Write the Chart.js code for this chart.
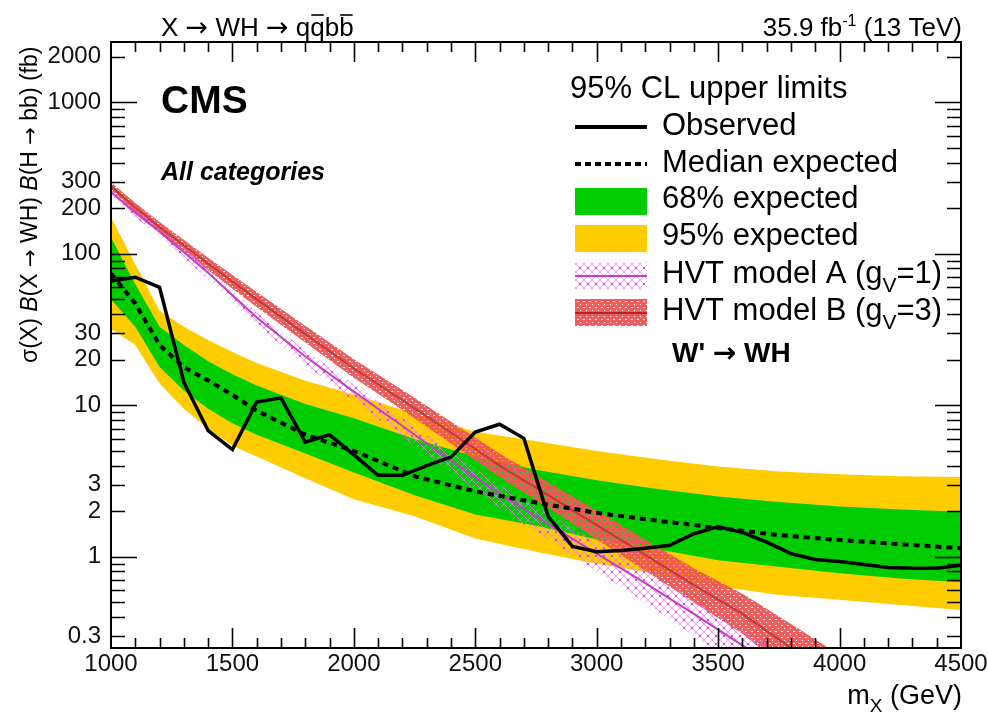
<!DOCTYPE html>
<html>
<head>
<meta charset="utf-8">
<title>W' to WH limits</title>
<script src="https://cdn.jsdelivr.net/npm/chart.js@4.4.1/dist/chart.umd.min.js"></script>
<style>
  html, body { margin: 0; padding: 0; background: #fff; }
  #wrap { width: 988px; height: 717px; }
</style>
</head>
<body>
<div id="wrap"><canvas id="limitChart" width="988" height="717"></canvas></div>
<script>
// observed limit, one point per 100 GeV
const obsMass = [1000, 1100, 1200, 1300, 1400, 1500, 1600, 1700, 1800, 1900, 2000, 2100,
  2200, 2300, 2400, 2500, 2600, 2700, 2800, 2900, 3000, 3100, 3200, 3300, 3400, 3500,
  3600, 3700, 3800, 3900, 4000, 4100, 4200, 4300, 4400, 4500]
const observed = [66, 70, 60, 14.2, 6.8, 5.1, 10.5, 11.2, 5.7, 6.4, 4.7, 3.45,
  3.45, 4.0, 4.55, 6.65, 7.5, 6.05, 1.85, 1.17, 1.08, 1.1, 1.14, 1.19, 1.42, 1.58,
  1.45, 1.25, 1.05, 0.96, 0.93, 0.89, 0.85, 0.84, 0.84, 0.88]

// expected limit and its 68% / 95% bands
const expMass = [1000, 1100, 1200, 1300, 1400, 1500, 1600, 1800, 2000, 2250, 2500,
  2750, 3000, 3250, 3500, 3750, 4000, 4250, 4500]
const median = [74, 47, 25, 17.8, 14.6, 11.7, 9.2, 6.4, 5.0, 3.4, 2.7,
  2.28, 1.95, 1.73, 1.55, 1.39, 1.29, 1.21, 1.14]
const greenHi = [128, 63, 33, 25, 19.5, 16, 13.5, 10.2, 8.2, 6.0, 4.6,
  3.75, 3.2, 2.8, 2.5, 2.3, 2.15, 2.05, 1.98]
const greenLo = [50, 33, 17.9, 12.5, 9.5, 7.6, 6.4, 4.8, 3.6, 2.55, 1.9,
  1.6, 1.3, 1.12, 0.95, 0.86, 0.78, 0.72, 0.68]
const yellowHi = [174, 85, 42, 33, 27, 22.5, 19, 14.5, 11.8, 8.8, 6.7,
  5.8, 5.0, 4.4, 3.95, 3.65, 3.5, 3.4, 3.36]
const yellowLo = [32, 25, 13.9, 9.5, 7, 5.4, 4.6, 3.3, 2.4, 1.85, 1.32,
  1.08, 0.9, 0.77, 0.64, 0.56, 0.52, 0.48, 0.446]

// HVT benchmark cross sections with their uncertainty bands
const hvtMass = [1000, 1100, 1200, 1400, 1600, 1800, 2000, 2200, 2400, 2600, 2800,
  3000, 3200, 3400, 3600, 3800, 4000]
const modelA = [255, 187, 140, 75, 38, 21, 12.3, 7.3, 4.3, 2.6, 1.65,
  1.05, 0.67, 0.42, 0.26, 0.16, 0.1]
const modelAHi = [268, 197, 148, 80, 41, 23, 13.7, 8.2, 4.9, 3.0, 1.93,
  1.25, 0.81, 0.52, 0.33, 0.21, 0.13]
const modelALo = [240, 175, 130, 68, 34, 18.5, 10.7, 6.2, 3.6, 2.1, 1.3,
  0.8, 0.5, 0.3, 0.18, 0.11, 0.07]
const modelB = [280, 202, 150, 86, 50, 29.5, 17.5, 10.8, 6.6, 4.0, 2.55,
  1.62, 1.03, 0.65, 0.42, 0.25, 0.15]
const modelBHi = [297, 216, 162, 94, 56, 33.5, 20.1, 12.6, 7.8, 4.8, 3.1,
  2.02, 1.3, 0.84, 0.57, 0.36, 0.225]
const modelBLo = [264, 188, 139, 78, 44.5, 26, 15.2, 9.3, 5.6, 3.35, 2.1,
  1.3, 0.81, 0.5, 0.31, 0.17, 0.1]

const xTickLabels = [1000, 1500, 2000, 2500, 3000, 3500, 4000, 4500]
const yTickLabels = [0.3, 1, 2, 3, 10, 20, 30, 100, 200, 300, 1000, 2000]

const FONT = "'Liberation Sans', Arial, Helvetica, sans-serif"
const ARROW_FONT = "'DejaVu Sans', sans-serif"
const YELLOW = '#ffcc00'
const GREEN = '#00cc00'
const MAGENTA = '#c23fc8'
const DARKRED = '#c03a3a'

const toPoints = (xs, ys) => xs.map((m, i) => ({ x: m, y: ys[i] }))

function hatch(size, paint) {
  const c = document.createElement('canvas')
  c.width = size
  c.height = size
  const g = c.getContext('2d')
  paint(g, size)
  return g.createPattern(c, 'repeat')
}

// model B band: dense red with little white gaps
const redHatch = hatch(6, g => {
  g.fillStyle = 'rgba(240, 88, 88, 0.97)'
  g.fillRect(0, 0, 6, 6)
  g.clearRect(1, 1, 2, 1)
  g.clearRect(4, 4, 1, 1)
})

// model A band: pink cross hatch with magenta dots
const pinkHatch = hatch(8, g => {
  g.strokeStyle = 'rgba(248, 120, 248, 0.75)'
  g.lineWidth = 1
  g.beginPath()
  g.moveTo(0, 0); g.lineTo(8, 8)
  g.moveTo(8, 0); g.lineTo(0, 8)
  g.stroke()
  g.fillStyle = 'rgba(232, 60, 232, 1)'
  g.fillRect(3, 3, 2, 2)
})

const band = (xs, ys, color, order, fill) => ({
  data: toPoints(xs, ys),
  borderWidth: 0,
  pointRadius: 0,
  backgroundColor: color,
  fill: fill ? '+1' : false,
  order: order,
  clip: 0
})

const datasets = [
  { data: toPoints(obsMass, observed), borderColor: '#000', borderWidth: 3.5, pointRadius: 0, fill: false, order: 0, clip: 0 },
  { data: toPoints(expMass, median), borderColor: '#000', borderWidth: 4, borderDash: [6, 5], pointRadius: 0, fill: false, order: 1, clip: 0 },
  { data: toPoints(hvtMass, modelA), borderColor: MAGENTA, borderWidth: 2, pointRadius: 0, fill: false, order: 2, clip: 0 },
  { data: toPoints(hvtMass, modelB), borderColor: DARKRED, borderWidth: 2, pointRadius: 0, fill: false, order: 2, clip: 0 },
  band(hvtMass, modelAHi, pinkHatch, 3, true),
  band(hvtMass, modelALo, pinkHatch, 3, false),
  band(hvtMass, modelBHi, redHatch, 3, true),
  band(hvtMass, modelBLo, redHatch, 3, false),
  band(expMass, greenHi, GREEN, 4, true),
  band(expMass, greenLo, GREEN, 4, false),
  band(expMass, yellowHi, YELLOW, 5, true),
  band(expMass, yellowLo, YELLOW, 5, false)
]

// text made of pieces with their own font, vertical shift and optional overline
function drawPieces(ctx, x, y, pieces) {
  for (const p of pieces) {
    ctx.font = p.font
    const w = ctx.measureText(p.t).width
    ctx.fillText(p.t, x, y + (p.dy || 0))
    if (p.bar) {
      ctx.save()
      ctx.lineWidth = 1.6
      ctx.beginPath()
      ctx.moveTo(x + 1, y - p.bar)
      ctx.lineTo(x + w - 1, y - p.bar)
      ctx.stroke()
      ctx.restore()
    }
    x += w
  }
  return x
}

function piecesWidth(ctx, pieces) {
  let w = 0
  for (const p of pieces) { ctx.font = p.font; w += ctx.measureText(p.t).width }
  return w
}

const frameAndTicks = {
  id: 'frameAndTicks',
  afterDatasetsDraw(chart) {
    const { ctx, chartArea: a, scales: { x, y } } = chart
    ctx.save()
    ctx.strokeStyle = '#000'
    ctx.lineWidth = 1.6
    ctx.beginPath()
    for (let m = 1100; m < 4500; m += 100) {
      const px = Math.round(x.getPixelForValue(m)) + 0.5
      const len = m % 500 === 0 ? 20 : 10
      ctx.moveTo(px, a.bottom); ctx.lineTo(px, a.bottom - len)
      ctx.moveTo(px, a.top); ctx.lineTo(px, a.top + len)
    }
    for (const decade of [0.1, 1, 10, 100, 1000]) {
      for (let k = 1; k <= 9; k++) {
        const v = k * decade
        if (v <= y.min || v >= y.max) continue
        const py = Math.round(y.getPixelForValue(v)) + 0.5
        const len = k === 1 ? 26 : 14
        ctx.moveTo(a.left, py); ctx.lineTo(a.left + len, py)
        ctx.moveTo(a.right, py); ctx.lineTo(a.right - len, py)
      }
    }
    ctx.stroke()
    ctx.lineWidth = 2
    ctx.strokeRect(a.left, a.top, a.right - a.left, a.bottom - a.top)
    ctx.restore()
  },
  afterDraw(chart) {
    const ctx = chart.ctx
    ctx.save()
    ctx.fillStyle = '#000'
    ctx.strokeStyle = '#000'
    ctx.textBaseline = 'alphabetic'
    ctx.textAlign = 'left'

    // header line
    const f26 = '26px ' + FONT
    const a26 = '27px ' + ARROW_FONT
    drawPieces(ctx, 161, 36, [
      { t: 'X ', font: f26 },
      { t: '\u2192', font: a26 },
      { t: ' WH ', font: f26 },
      { t: '\u2192', font: a26 },
      { t: ' q', font: f26 },
      { t: 'q', font: f26, bar: 21 },
      { t: 'b', font: f26 },
      { t: 'b', font: f26, bar: 21 }
    ])
    const lumi = [
      { t: '35.9 fb', font: f26 },
      { t: '-1', font: '16px ' + FONT, dy: -10 },
      { t: ' (13 TeV)', font: f26 }
    ]
    drawPieces(ctx, 962 - piecesWidth(ctx, lumi), 36, lumi)

    // axis titles
    const f27 = '27px ' + FONT
    const xt = [
      { t: 'm', font: f27 },
      { t: 'X', font: '19px ' + FONT, dy: 8 },
      { t: ' (GeV)', font: f27 }
    ]
    drawPieces(ctx, 962 - piecesWidth(ctx, xt), 704, xt)

    ctx.save()
    ctx.translate(37, 363)
    ctx.rotate(-Math.PI / 2)
    const f23 = '23px ' + FONT
    const fi23 = 'italic 23px ' + FONT
    const a23 = '21px ' + ARROW_FONT
    drawPieces(ctx, 0, 0, [
      { t: '\u03c3(X) ', font: f23 },
      { t: 'B', font: fi23 },
      { t: '(X ', font: f23 },
      { t: '\u2192', font: a23 },
      { t: ' WH) ', font: f23 },
      { t: 'B', font: fi23 },
      { t: '(H ', font: f23 },
      { t: '\u2192', font: a23 },
      { t: ' bb) (fb)', font: f23 }
    ])
    ctx.restore()

    // labels inside the frame
    ctx.font = 'bold 39px ' + FONT
    ctx.fillText('CMS', 161, 113)
    ctx.font = 'italic bold 25px ' + FONT
    ctx.fillText('All categories', 161, 180)

    // legend
    const f31 = '31px ' + FONT
    ctx.font = f31
    ctx.fillText('95% CL upper limits', 570, 98)
    const sx0 = 575, sx1 = 647, tx = 662

    ctx.lineWidth = 4
    ctx.beginPath(); ctx.moveTo(sx0, 127); ctx.lineTo(sx1, 127); ctx.stroke()
    ctx.fillText('Observed', tx, 135)

    ctx.setLineDash([6, 4])
    ctx.beginPath(); ctx.moveTo(sx0, 164); ctx.lineTo(sx1, 164); ctx.stroke()
    ctx.setLineDash([])
    ctx.fillText('Median expected', tx, 172)

    ctx.fillStyle = GREEN
    ctx.fillRect(sx0, 188, sx1 - sx0, 27)
    ctx.fillStyle = YELLOW
    ctx.fillRect(sx0, 225, sx1 - sx0, 27)
    ctx.fillStyle = '#000'
    ctx.fillText('68% expected', tx, 208)
    ctx.fillText('95% expected', tx, 245)

    ctx.fillStyle = pinkHatch
    ctx.fillRect(sx0, 262, sx1 - sx0, 27)
    ctx.fillStyle = redHatch
    ctx.fillRect(sx0, 299, sx1 - sx0, 27)
    ctx.lineWidth = 2
    ctx.strokeStyle = MAGENTA
    ctx.beginPath(); ctx.moveTo(sx0, 276); ctx.lineTo(sx1, 276); ctx.stroke()
    ctx.strokeStyle = '#a82828'
    ctx.beginPath(); ctx.moveTo(sx0, 313); ctx.lineTo(sx1, 313); ctx.stroke()

    ctx.fillStyle = '#000'
    const sub = '21px ' + FONT
    drawPieces(ctx, tx, 283, [
      { t: 'HVT model A (g', font: f31 },
      { t: 'V', font: sub, dy: 9 },
      { t: '=1)', font: f31 }
    ])
    drawPieces(ctx, tx, 320, [
      { t: 'HVT model B (g', font: f31 },
      { t: 'V', font: sub, dy: 9 },
      { t: '=3)', font: f31 }
    ])

    const b28 = 'bold 28px ' + FONT
    drawPieces(ctx, 672, 362, [
      { t: "W' ", font: b28 },
      { t: '\u2192', font: 'bold 28px ' + ARROW_FONT },
      { t: ' WH', font: b28 }
    ])
    ctx.restore()
  }
}

new Chart(document.getElementById('limitChart'), {
  type: 'line',
  data: { datasets: datasets },
  options: {
    responsive: false,
    animation: false,
    events: [],
    layout: { padding: { top: 42, right: 27, bottom: 0, left: 0 } },
    plugins: { legend: { display: false }, tooltip: { enabled: false } },
    elements: { line: { tension: 0 }, point: { radius: 0 } },
    scales: {
      x: {
        type: 'linear',
        min: 1000,
        max: 4500,
        grid: { display: false, drawTicks: false },
        border: { display: false },
        ticks: {
          autoSkip: false,
          maxRotation: 0,
          padding: 2,
          color: '#111',
          font: { family: FONT, size: 24 },
          callback: v => String(v)
        },
        afterBuildTicks: scale => {
          scale.ticks = xTickLabels.map(v => ({ value: v }))
        },
        afterFit: scale => {
          scale.height = 69
          scale.paddingLeft = 0
          scale.paddingRight = 0
        }
      },
      y: {
        type: 'logarithmic',
        min: 0.25,
        max: 2500,
        grid: { display: false, drawTicks: false },
        border: { display: false },
        ticks: {
          autoSkip: false,
          padding: 10,
          color: '#111',
          font: { family: FONT, size: 24 },
          callback: v => String(v)
        },
        afterBuildTicks: scale => {
          scale.ticks = yTickLabels.map(v => ({ value: v }))
        },
        afterFit: scale => {
          scale.width = 111
          scale.paddingTop = 0
          scale.paddingBottom = 0
        }
      }
    }
  },
  plugins: [frameAndTicks]
})
</script>
</body>
</html>
